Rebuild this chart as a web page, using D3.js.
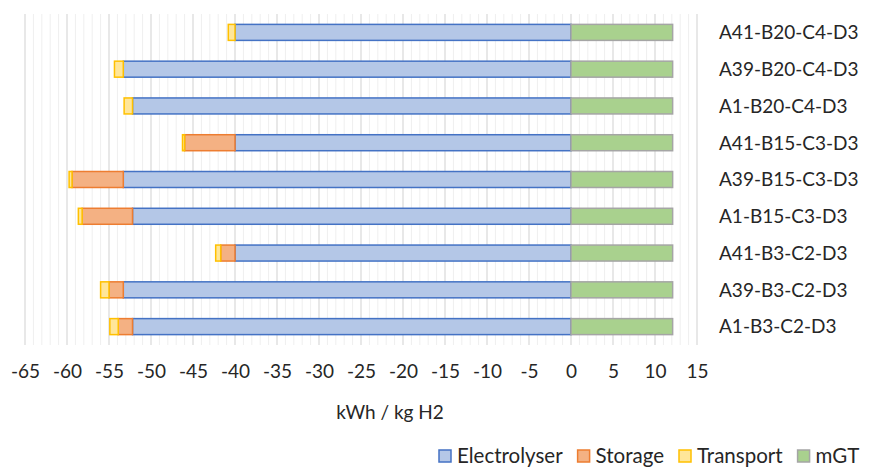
<!DOCTYPE html>
<html>
<head>
<meta charset="utf-8">
<script src="https://cdn.jsdelivr.net/npm/d3@7"></script>
<style>
  html, body { margin: 0; padding: 0; background: #fff; }
  svg text { font-family: Lato, "Open Sans", sans-serif; fill: #262626; }
</style>
</head>
<body>
<svg id="chart" width="874" height="470"></svg>
<script>
// Scenario names, listed bottom to top as they appear on the axis
const scenarios = [
  "A1-B3-C2-D3", "A39-B3-C2-D3", "A41-B3-C2-D3",
  "A1-B15-C3-D3", "A39-B15-C3-D3", "A41-B15-C3-D3",
  "A1-B20-C4-D3", "A39-B20-C4-D3", "A41-B20-C4-D3"
];
// Energy terms in kWh / kg H2 (consumption negative, generation positive)
const electrolyser = [-52.2, -53.3, -40.0, -52.2, -53.3, -40.0, -52.2, -53.3, -40.0];
const storage      = [-1.7, -1.7, -1.7, -6.0, -6.1, -6.0, 0, 0, 0];
const transport    = [-1.0, -1.0, -0.6, -0.45, -0.35, -0.25, -1.0, -1.05, -0.8];
const mgt          = [12.1, 12.1, 12.1, 12.1, 12.1, 12.1, 12.1, 12.1, 12.1];
const xTicks = [-65, -60, -55, -50, -45, -40, -35, -30, -25, -20, -15, -10, -5, 0, 5, 10, 15];

const series = [
  { name: "Electrolyser", values: electrolyser, fill: "#b4c7e7", stroke: "#4472c4" },
  { name: "Storage",      values: storage,      fill: "#f4b183", stroke: "#ed7d31" },
  { name: "Transport",    values: transport,    fill: "#ffe699", stroke: "#ffc000" },
  { name: "mGT",          values: mgt,          fill: "#a9d18e", stroke: "#a5a5a5" }
];

const svg = d3.select("#chart");
const plot = { left: 25, right: 697, top: 14, bottom: 345 };

const x = d3.scaleLinear().domain([-65, 15]).range([plot.left, plot.right]);
const y = d3.scaleBand()
  .domain(scenarios.slice().reverse())
  .range([plot.top, plot.bottom])
  .paddingInner(0.565).paddingOuter(0.2825);

// Minor gridlines every 1 unit, major every 5
const minor = d3.range(-65, 16, 1).filter(v => v % 5 !== 0);
svg.append("g").selectAll("line").data(minor).join("line")
  .attr("x1", d => x(d)).attr("x2", d => x(d))
  .attr("y1", plot.top).attr("y2", plot.bottom)
  .attr("stroke", "#efefef").attr("stroke-width", 1);
svg.append("g").selectAll("line").data(xTicks).join("line")
  .attr("x1", d => x(d)).attr("x2", d => x(d))
  .attr("y1", plot.top).attr("y2", plot.bottom)
  .attr("stroke", "#d9d9d9").attr("stroke-width", 1.2);

// Stacked segments: negatives accumulate leftwards from zero, positives rightwards
const segs = [];
scenarios.forEach((s, i) => {
  let neg = 0, pos = 0;
  series.forEach(se => {
    const v = se.values[i];
    if (v === 0) return;
    let a, b;
    if (v < 0) { a = neg + v; b = neg; neg = a; }
    else { a = pos; b = pos + v; pos = b; }
    segs.push({ s, a, b, fill: se.fill, stroke: se.stroke });
  });
});

svg.append("g").selectAll("rect").data(segs).join("rect")
  .attr("x", d => x(d.a))
  .attr("y", d => y(d.s))
  .attr("width", d => x(d.b) - x(d.a))
  .attr("height", y.bandwidth())
  .attr("fill", d => d.fill)
  .attr("stroke", d => d.stroke)
  .attr("stroke-width", 1.5);

// Category labels to the right of the plot
svg.append("g").selectAll("text").data(scenarios).join("text")
  .attr("x", 719)
  .attr("y", d => y(d) + y.bandwidth() / 2)
  .attr("dy", "0.36em")
  .attr("font-size", 19)
  .text(d => d);

// Value axis labels (plain hyphen for the minus sign)
const xAxis = svg.append("g")
  .attr("transform", `translate(0,${plot.bottom})`)
  .call(d3.axisBottom(x).tickValues(xTicks).tickSize(0).tickPadding(20)
    .tickFormat(d => String(d)));
xAxis.select(".domain").remove();
xAxis.selectAll("text")
  .attr("font-size", 19)
  .style("font-family", "Lato, 'Open Sans', sans-serif")
  .attr("fill", "#262626");

svg.append("text")
  .attr("x", 390).attr("y", 419)
  .attr("text-anchor", "middle")
  .attr("font-size", 19)
  .text("kWh / kg H2");

// Legend
const legend = svg.append("g");
let lx = 439;
series.forEach(se => {
  const g = legend.append("g").attr("transform", `translate(${lx},450)`);
  g.append("rect").attr("width", 12).attr("height", 12)
    .attr("fill", se.fill).attr("stroke", se.stroke).attr("stroke-width", 1.5);
  const t = g.append("text").attr("x", 18).attr("y", 6).attr("dy", "0.36em")
    .attr("font-size", 20.5).text(se.name);
  lx += 18 + t.node().getComputedTextLength() + 15;
});
</script>
</body>
</html>
